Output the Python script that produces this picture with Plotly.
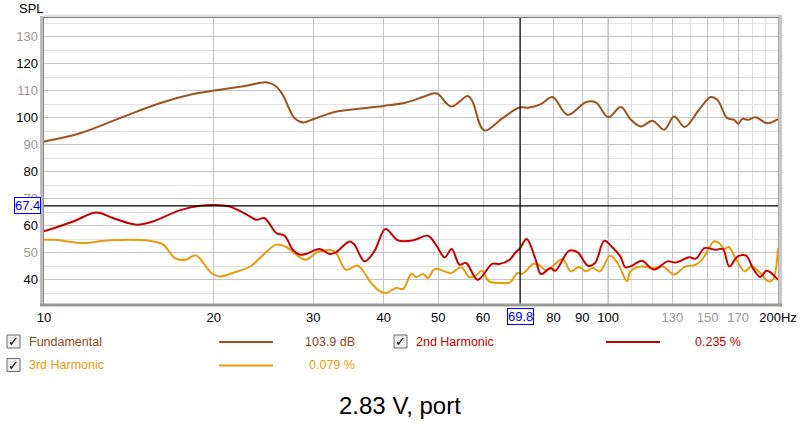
import math
import plotly.graph_objects as go

# ---------------- data ----------------
fund_freq = [10, 11.58, 13.63, 16.04, 18.38, 20, 22.84, 24.8, 25.8, 26.5, 27.8, 28.8, 30, 32.5, 34.8, 40,
             43.85, 46.9, 49.2, 50, 52.7, 56.4, 57.5, 60.3, 65, 69.6, 72.6, 76.0, 79.7, 84.7, 91.3, 95.1,
             100, 105.3, 109.7, 114.3, 119.8, 125.7, 130.9, 136.7, 144.9, 152, 156.1, 162.6, 167.1, 170.1,
             172.9, 177.2, 182.5, 191.4, 200]
fund_db = [91.2, 94.3, 99.9, 105.4, 108.8, 110.1, 111.9, 113.2, 111.6, 108.5, 99.9, 98.3, 99.5, 102, 103, 104.4,
           105.7, 107.7, 109.1, 108.8, 104.2, 108.1, 106, 95.3, 99.9, 103.8, 103.8, 105.1, 107.7, 101.1, 105.8, 105.7,
           100.2, 104, 99.3, 96.8, 98.9, 95.6, 100.5, 96.6, 103, 107.7, 106.7, 99.9, 99.3, 97.8,
           99.6, 99.3, 100.2, 98, 99.5]

h2_freq = [10, 11.27, 12.39, 13.27, 14.6, 15.6, 17.4, 18.9, 20, 21.35, 22.8, 23.8, 24.6, 25.8, 26.7, 27.6, 28.4,
           29.1, 30.8, 32.1, 32.9, 34.8, 35.5, 37.0, 38.5, 40.3, 42.4, 45.1, 47.9, 49.5, 51.3, 52.8, 54.5, 56,
           58.7, 62.3, 64.1, 66.9, 68.4, 69.8, 71.7, 74.4, 76, 79, 80.6, 85.2, 88.3, 92.1, 94.8, 98.4, 101.6,
           105.1, 107.3, 110.2, 114.7, 120.6, 127.4, 131.8, 139.2, 143.1, 148.1, 155.2, 159.6, 164, 169.5,
           175.6, 180.5, 186, 191, 200]
h2_db = [57.9, 61.6, 64.9, 62.8, 60.4, 61.6, 65.7, 67.4, 67.7, 67.1, 64.3, 62.2, 62.8, 57.3, 56.3, 51.1, 49.3,
         49.5, 51.4, 49.5, 50.1, 54.2, 53, 46.8, 50.5, 58.8, 54.6, 54.6, 56.3, 53, 48.3, 51.4, 45.6, 46.2,
         40, 45.9, 45.8, 47.4, 49.9, 51.7, 55.1, 47.4, 42.1, 44.3, 43.3, 50.7, 50.1, 45.2, 46.2, 54.4, 52.1,
         48.6, 44.6, 45.2, 47, 43.7, 46.8, 46.4, 48.3, 47.8, 51.7, 51.1, 51.4, 44.9, 48.6,
         48.9, 44.3, 41, 43.3, 40]

h3_freq = [10, 10.45, 11.74, 13.08, 15.4, 16.27, 17.06, 17.8, 18.6, 19.8, 20.5, 21.6, 23.2, 24.5, 25.8, 26.9,
           28.0, 29.1, 30.6, 32.7, 34.3, 36.0, 38.0, 39.3, 40.4, 42.1, 43.3, 44.8, 45.7, 47, 47.9, 49.3, 52.7,
           54.9, 56.7, 58.3, 59.7, 61.5, 64.1, 66.9, 69.1, 70.5, 73.8, 75.7, 77.8, 83.0, 85.8, 88.8, 91.3,
           93.9, 96.7, 100.8, 103.9, 108, 109.5, 114, 120.2, 124.9, 131, 136.4, 143.1, 147, 154.1, 157.3,
           160.7, 163.6, 167.6, 174.5, 179.4, 185.7, 192.3, 195.9, 200]
h3_db = [54.8, 54.8, 53.6, 54.6, 54.4, 53, 48, 47.4, 49, 42.5, 41.2, 42.5, 44.9, 49.3, 53, 52.1,
         49.3, 47.4, 50.3, 50.5, 43.7, 45.2, 38.8, 35.9, 35.1, 36.9, 36.6, 42.2, 41, 42.1, 40.6, 44, 42.5,
         44.6, 41, 41.5, 43.3, 39.4, 38.8, 39, 42.5, 42.2, 45.9, 45.2, 43.4, 47.7, 43.1, 44.7, 43.1,
         44.3, 43.1, 48.9, 46.2, 39.4, 43.1, 44.9, 44.3, 44.9, 41.9, 44.7, 45.6, 47.7, 54.2, 53.6,
         51.4, 52.1, 48.6, 43.1, 44.9, 42.7, 39.4, 40, 51.7]

series_names = ["Fundamental", "2nd Harmonic", "3rd Harmonic"]
series_values = ["103.9 dB", "0.235 %", "0.079 %"]
cursor_freq = 69.8
cursor_db = 67.4

x_tick_vals = [10, 20, 30, 40, 50, 60, 70, 80, 90, 100, 130, 150, 170, 200]
x_tick_text = ["10", "20", "30", "40", "50", "60", "", "80", "90", "100", "130", "150", "170", "200Hz"]
x_minor_vals = [110, 120, 140, 160, 180, 190]
y_tick_vals = [40, 50, 60, 70, 80, 90, 100, 110, 120, 130]
title_text = "2.83 V, port"

# ---------------- styling ----------------
C_FUND = "#A0521E"
C_FUND_TXT = "#8E4A22"
C_H2 = "#C80000"
C_H3 = "#E89C0C"
GRAY_LBL = "#9a9a9a"

W, H = 800, 422
SL, SR, ST, SB = 44, 778, 18, 304          # plot area in screen pixels
L, R, T, B = SL, SR, ST, SB


def px(x):
    return (x - SL) / (SR - SL)


def py(y):
    return (SB - y) / (SB - ST)


fig = go.Figure()
fig.add_trace(go.Scatter(x=fund_freq, y=fund_db, mode="lines", line=dict(color=C_FUND, width=2, shape="spline", smoothing=1.0), hoverinfo="skip"))
fig.add_trace(go.Scatter(x=h3_freq, y=h3_db, mode="lines", line=dict(color=C_H3, width=2, shape="spline", smoothing=1.0), hoverinfo="skip"))
fig.add_trace(go.Scatter(x=h2_freq, y=h2_db, mode="lines", line=dict(color=C_H2, width=2, shape="spline", smoothing=1.0), hoverinfo="skip"))

gray_x = {130, 150, 170}
xt = [f'<span style="color:{GRAY_LBL}">{t}</span>' if v in gray_x else t for v, t in zip(x_tick_vals, x_tick_text)]
yt = [f'<span style="color:{GRAY_LBL}">{v}</span>' if (v // 10) % 2 == 1 else str(v) for v in y_tick_vals]

fig.update_layout(
    width=W, height=H,
    margin=dict(l=L, r=W - R, t=T, b=H - B, autoexpand=False),
    paper_bgcolor="white", plot_bgcolor="white",
    showlegend=False,
    font=dict(family="Liberation Sans, Arial, sans-serif", size=13, color="black"),
    xaxis=dict(type="log", range=[1, math.log10(200)], tickvals=x_tick_vals, ticktext=xt,
               showgrid=True, gridcolor="#c4c4c4", gridwidth=1, zeroline=False, showline=False,
               ticks="", ticklabelstandoff=4, automargin=False,
               minor=dict(tickvals=x_minor_vals, showgrid=True, gridcolor="#dedede", gridwidth=1)),
    yaxis=dict(range=[31, 137], tickvals=y_tick_vals, ticktext=yt,
               showgrid=True, gridcolor="#c4c4c4", gridwidth=1, zeroline=False, showline=False,
               ticks="", ticklabelstandoff=5, automargin=False,
               minor=dict(dtick=5, showgrid=True, gridcolor="#e2e2e2", gridwidth=1)),
)

shapes = []
# darker 100 Hz line
shapes.append(dict(type="line", xref="x", yref="paper", x0=100, x1=100, y0=0, y1=1, line=dict(color="#8c8c8c", width=1), layer="below"))
# cursor lines
shapes.append(dict(type="line", xref="x", yref="paper", x0=cursor_freq, x1=cursor_freq, y0=0, y1=1, line=dict(color="black", width=1.2)))
shapes.append(dict(type="line", xref="paper", yref="y", x0=0, x1=1, y0=cursor_db, y1=cursor_db, line=dict(color="black", width=1.2)))
# frame (3D look)
shapes.append(dict(type="rect", xref="paper", yref="paper", x0=px(40), x1=px(44), y0=py(306), y1=py(16), fillcolor="#bdbdbd", line=dict(width=0)))
shapes.append(dict(type="line", xref="paper", yref="paper", x0=px(43.5), x1=px(43.5), y0=py(305), y1=py(17), line=dict(color="#8a8a8a", width=1)))
shapes.append(dict(type="rect", xref="paper", yref="paper", x0=px(44), x1=px(781), y0=py(14.5), y1=py(17.5), fillcolor="#e0e0e0", line=dict(width=0)))
shapes.append(dict(type="line", xref="paper", yref="paper", x0=px(44), x1=px(779), y0=py(17.5), y1=py(17.5), line=dict(color="#7a7a7a", width=1)))
shapes.append(dict(type="rect", xref="paper", yref="paper", x0=px(778), x1=px(782), y0=py(306), y1=py(15), fillcolor="#c8c8c8", line=dict(width=0)))
shapes.append(dict(type="line", xref="paper", yref="paper", x0=px(778.5), x1=px(778.5), y0=py(305), y1=py(17), line=dict(color="#a8a8a8", width=1)))
shapes.append(dict(type="rect", xref="paper", yref="paper", x0=px(40), x1=px(782), y0=py(306.5), y1=py(303.5), fillcolor="#9a9a9a", line=dict(width=0)))

annotations = []
annotations.append(dict(text="SPL", xref="paper", yref="paper", x=px(17), y=py(8.5), xanchor="left", yanchor="middle", showarrow=False, font=dict(size=13, color="black")))
# cursor readouts
annotations.append(dict(text=f"{cursor_db}", xref="paper", yref="y", x=px(41), y=cursor_db, xanchor="right", yanchor="middle",
                        showarrow=False, font=dict(size=13, color="#0000ff"), bgcolor="white", bordercolor="#0000ff", borderwidth=1, borderpad=0))
annotations.append(dict(text=f"{cursor_freq}", xref="x", yref="paper", x=math.log10(cursor_freq), y=py(316), xanchor="center", yanchor="middle",
                        showarrow=False, font=dict(size=13, color="#0000ff"), bgcolor="white", bordercolor="#0000ff", borderwidth=1, borderpad=0))

# legend rows
legend_rows = [
    (series_names[0], series_values[0], C_FUND, C_FUND_TXT, 7, 219, 273, 357, 341.5),
    (series_names[1], series_values[1], C_H2, C_H2, 394, 606, 660, 743, 341.5),
    (series_names[2], series_values[2], C_H3, C_H3, 7, 219, 273, 357, 365),
]
for name, val, lc, tc, cbx, lx0, lx1, vx, yy in legend_rows:
    shapes.append(dict(type="rect", xref="paper", yref="paper", x0=px(cbx), x1=px(cbx + 13), y0=py(yy + 6.5), y1=py(yy - 6.5),
                       fillcolor="#eeeeee", line=dict(color="#6a6a6a", width=1)))
    annotations.append(dict(text="<b>✓</b>", xref="paper", yref="paper", x=px(cbx + 6.8), y=py(yy), xanchor="center", yanchor="middle",
                            showarrow=False, font=dict(family="DejaVu Sans", size=13, color="black")))
    annotations.append(dict(text=name, xref="paper", yref="paper", x=px(cbx + 20), y=py(yy), xanchor="left", yanchor="middle",
                            showarrow=False, font=dict(size=12.5, color=tc)))
    shapes.append(dict(type="line", xref="paper", yref="paper", x0=px(lx0), x1=px(lx1), y0=py(yy + 0.5), y1=py(yy + 0.5),
                       line=dict(color=lc, width=2)))
    annotations.append(dict(text=val, xref="paper", yref="paper", x=px(vx), y=py(yy), xanchor="right", yanchor="middle",
                            showarrow=False, font=dict(size=12.5, color=tc)))

annotations.append(dict(text=title_text, xref="paper", yref="paper", x=px(400), y=py(405), xanchor="center", yanchor="middle",
                        showarrow=False, font=dict(size=24, color="black")))

fig.update_layout(shapes=shapes, annotations=annotations)
# remove the default 8px page margin so the figure fills the 800x422 window exactly
fig.write_html("out.html", config={"displayModeBar": False},
               post_script="document.body.style.margin='0px';")
